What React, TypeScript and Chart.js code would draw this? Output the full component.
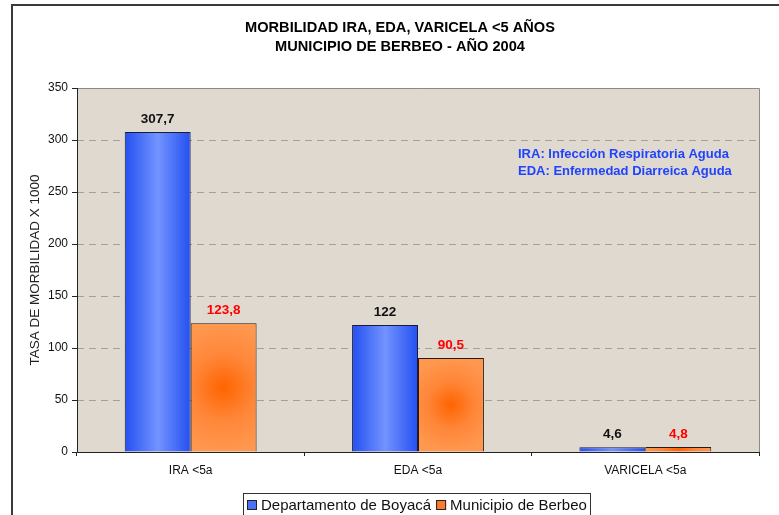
import React, { useEffect, useRef } from "react";
import { Chart, registerables } from "chart.js";

Chart.register(...registerables);

const categories = ["IRA <5a", "EDA <5a", "VARICELA <5a"];
const seriesNames = ["Departamento de Boyacá", "Municipio de Berbeo"];
const boyaca = [307.7, 122, 4.6];
const berbeo = [123.8, 90.5, 4.8];
const labelsBoyaca = ["307,7", "122", "4,6"];
const labelsBerbeo = ["123,8", "90,5", "4,8"];
const titleLines = ["MORBILIDAD IRA, EDA, VARICELA <5 AÑOS", "MUNICIPIO DE BERBEO - AÑO 2004"];
const notes = ["IRA: Infección Respiratoria Aguda", "EDA: Enfermedad Diarreica Aguda"];
const yTitle = "TASA DE MORBILIDAD X 1000";

const FONT = "Arial, 'Liberation Sans', sans-serif";
const CAT_PCT = 0.58;

function barRect(chart: any, datasetIndex: number, dataIndex: number, value: number) {
  const xs = chart.scales.x;
  const ys = chart.scales.y;
  const catW = xs.width / categories.length;
  const barW = (catW * CAT_PCT) / 2;
  const c = xs.getPixelForValue(dataIndex);
  const x0 = c - barW + datasetIndex * barW;
  const top = ys.getPixelForValue(value);
  const base = ys.getPixelForValue(0);
  return { x0, x1: x0 + barW, top, base };
}

function blueFill(ctx: any) {
  const chart = ctx.chart;
  if (!chart.chartArea || ctx.dataIndex === undefined || !chart.scales.x) return "#3a64f5";
  const v = ctx.dataset.data[ctx.dataIndex];
  const r = barRect(chart, ctx.datasetIndex, ctx.dataIndex, v);
  const g = chart.ctx.createLinearGradient(r.x0, 0, r.x1, 0);
  g.addColorStop(0, "#2350f0");
  g.addColorStop(0.5, "#7393ff");
  g.addColorStop(1, "#2350f0");
  return g;
}

function orangeFill(ctx: any) {
  const chart = ctx.chart;
  if (!chart.chartArea || ctx.dataIndex === undefined || !chart.scales.x) return "#ff8030";
  const v = ctx.dataset.data[ctx.dataIndex];
  const r = barRect(chart, ctx.datasetIndex, ctx.dataIndex, v);
  const cx = (r.x0 + r.x1) / 2;
  const cy = (r.top + r.base) / 2;
  const rad = Math.max(r.x1 - r.x0, r.base - r.top) / 2;
  const g = chart.ctx.createRadialGradient(cx, cy, 0, cx, cy, Math.max(rad, 1));
  g.addColorStop(0, "#ff6400");
  g.addColorStop(0.5, "#ff8638");
  g.addColorStop(1, "#ff984f");
  return g;
}

const decorPlugin = {
  id: "decor",
  beforeDraw(chart: any) {
    const { ctx, chartArea: a } = chart;
    ctx.save();
    ctx.fillStyle = "#ffffff";
    ctx.fillRect(0, 0, chart.width, chart.height);
    ctx.strokeStyle = "#3a3a3a";
    ctx.lineWidth = 2;
    ctx.strokeRect(12, 5, 900, 700);
    ctx.fillStyle = "#dfd9cf";
    ctx.fillRect(a.left, a.top, a.right - a.left, a.bottom - a.top);
    ctx.restore();
  },
  afterDatasetsDraw(chart: any) {
    const { ctx, chartArea: a } = chart;
    ctx.save();
    // frame
    ctx.lineWidth = 1;
    ctx.strokeStyle = "#8a8a8a";
    ctx.beginPath();
    ctx.moveTo(a.left, a.top + 0.5);
    ctx.lineTo(a.right + 0.5, a.top + 0.5);
    ctx.lineTo(a.right + 0.5, a.bottom);
    ctx.stroke();
    ctx.strokeStyle = "#222222";
    ctx.beginPath();
    ctx.moveTo(a.left + 0.5, a.top);
    ctx.lineTo(a.left + 0.5, a.bottom + 0.5);
    ctx.lineTo(a.right + 1, a.bottom + 0.5);
    ctx.stroke();

    // data labels
    ctx.font = "bold 13.5px " + FONT;
    ctx.textAlign = "center";
    ctx.textBaseline = "middle";
    const labelSets = [labelsBoyaca, labelsBerbeo];
    const colors = ["#111111", "#ff0000"];
    chart.data.datasets.forEach((ds: any, di: number) => {
      const meta = chart.getDatasetMeta(di);
      meta.data.forEach((el: any, i: number) => {
        ctx.fillStyle = colors[di];
        ctx.fillText(labelSets[di][i], el.x, el.y - 13);
      });
    });

    // notes
    ctx.font = "bold 13px " + FONT;
    ctx.textAlign = "left";
    ctx.fillStyle = "#1f43ff";
    notes.forEach((t, i) => ctx.fillText(t, 518, 154 + i * 17.5));

    // title
    ctx.font = "bold 14.6px " + FONT;
    ctx.textAlign = "center";
    ctx.fillStyle = "#000000";
    titleLines.forEach((t, i) => ctx.fillText(t, 400, 28 + i * 19));

    // y title
    ctx.save();
    ctx.translate(35, (a.top + a.bottom) / 2);
    ctx.rotate(-Math.PI / 2);
    ctx.font = "13.5px " + FONT;
    ctx.fillStyle = "#222222";
    ctx.fillText(yTitle, 0, 0);
    ctx.restore();

    // legend
    ctx.fillStyle = "#ffffff";
    ctx.fillRect(243, 493, 348, 40);
    ctx.strokeStyle = "#333333";
    ctx.lineWidth = 1;
    ctx.strokeRect(243.5, 493.5, 347, 40);
    ctx.font = "15px " + FONT;
    ctx.textAlign = "left";
    const legendFill = ["#4a72f8", "#ff7a2a"];
    let x = 247;
    seriesNames.forEach((n, i) => {
      ctx.fillStyle = legendFill[i];
      ctx.fillRect(x, 500, 10, 10);
      ctx.strokeStyle = "#222222";
      ctx.strokeRect(x + 0.5, 500.5, 9, 9);
      ctx.fillStyle = "#111111";
      ctx.fillText(n, x + 14, 506);
      x += 14 + ctx.measureText(n).width + 5;
    });
    ctx.restore();
  },
};

export default function App() {
  const ref = useRef<HTMLCanvasElement>(null);
  useEffect(() => {
    if (!ref.current) return;
    const chart = new Chart(ref.current, {
      type: "bar",
      data: {
        labels: categories,
        datasets: [
          {
            label: seriesNames[0],
            data: boyaca,
            backgroundColor: blueFill,
            borderColor: "#1a1a40",
            borderWidth: 1,
            borderSkipped: "bottom",
            categoryPercentage: CAT_PCT,
            barPercentage: 1,
          },
          {
            label: seriesNames[1],
            data: berbeo,
            backgroundColor: orangeFill,
            borderColor: "#2a1a10",
            borderWidth: 1,
            borderSkipped: "bottom",
            categoryPercentage: CAT_PCT,
            barPercentage: 1,
          },
        ],
      },
      options: {
        responsive: false,
        animation: false,
        layout: { padding: { left: 0, top: 88, right: 20, bottom: 0 } },
        plugins: { legend: { display: false }, title: { display: false }, tooltip: { enabled: false } },
        scales: {
          x: {
            afterFit: (s: any) => { s.height = 63; },
            grid: { display: true, drawOnChartArea: false, drawTicks: true, tickLength: 4, tickColor: "#222222", color: "#222222", offset: true },
            border: { display: false },
            ticks: { color: "#111111", font: { family: FONT, size: 12 }, padding: 7, maxRotation: 0 },
          },
          y: {
            min: 0,
            max: 350,
            afterFit: (s: any) => { s.width = 77; },
            grid: { color: "#a3a09b", lineWidth: 1, tickLength: 5, tickColor: "#222222", tickBorderDash: [] },
            border: { display: false, dash: [7, 5] },
            ticks: { stepSize: 50, color: "#111111", font: { family: FONT, size: 12 }, padding: 4 },
          },
        },
      },
      plugins: [decorPlugin],
    });
    return () => chart.destroy();
  }, []);
  return (
    <div style={{ position: "absolute", left: 0, top: 0, width: 779, height: 515 }}>
      <canvas ref={ref} width={779} height={515} />
    </div>
  );
}
